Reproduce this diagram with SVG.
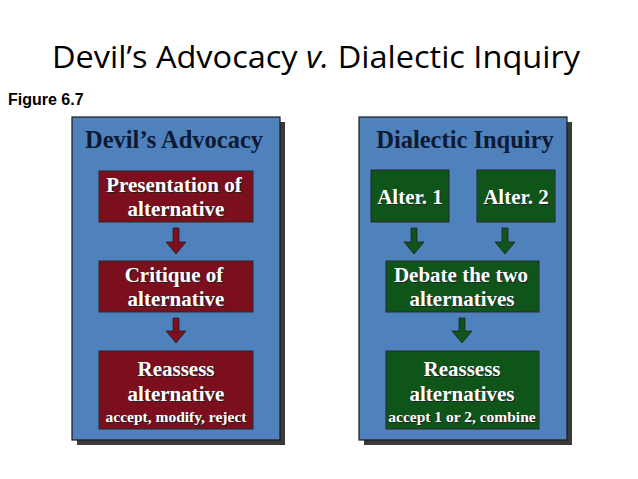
<svg xmlns="http://www.w3.org/2000/svg" width="638" height="479" viewBox="0 0 638 479">
<style>
.panel{fill:#4f81bd;stroke:#1a1a1a;stroke-width:1.2}
.sh{fill:#3a3a3a}
.red{fill:#7b0f1e;stroke:#2a2a2a;stroke-width:1}
.grn{fill:#0f5419;stroke:#2a2a2a;stroke-width:1}
.pt{font-family:"Liberation Serif",serif;font-weight:bold;font-size:24.5px;fill:#0d1a33;text-anchor:middle}
.bt{font-family:"Liberation Serif",serif;font-weight:bold;font-size:21px;fill:#fff;text-anchor:middle}
.st{font-family:"Liberation Serif",serif;font-weight:bold;font-size:15.5px;fill:#fff;text-anchor:middle}
.bts{font-family:"Liberation Serif",serif;font-weight:bold;font-size:21px;fill:#222;text-anchor:middle}
.sts{font-family:"Liberation Serif",serif;font-weight:bold;font-size:15.5px;fill:#222;text-anchor:middle}
.ar{fill:#7b0f1e;stroke:#222;stroke-width:0.8}
.ag{fill:#0f5419;stroke:#222;stroke-width:0.8}
</style>
<rect width="638" height="479" fill="#fff"/>
<text x="316" y="68" font-family="'Open Sans','DejaVu Sans',sans-serif" font-size="31" text-anchor="middle" fill="#000" textLength="528" lengthAdjust="spacingAndGlyphs">Devil’s Advocacy <tspan font-style="italic">v.</tspan> Dialectic Inquiry</text>
<text x="8" y="105" font-family="'Liberation Sans',sans-serif" font-weight="bold" font-size="16" fill="#000">Figure 6.7</text>
<g id="panel-left">
<rect class="sh" x="77" y="122" width="208" height="323"/>
<rect class="panel" x="72" y="117" width="208" height="323"/>
<text class="pt" x="174" y="148">Devil’s Advocacy</text>
</g>
<g id="panel-right">
<rect class="sh" x="364" y="122" width="208" height="323"/>
<rect class="panel" x="359" y="117" width="208" height="323"/>
<text class="pt" x="465" y="148">Dialectic Inquiry</text>
</g>
<g id="n1">
<rect class="red" x="99" y="171" width="154" height="51"/>
<text class="bts" x="175" y="193">Presentation of</text><text class="bt" x="174" y="192">Presentation of</text>
<text class="bts" x="177" y="217">alternative</text><text class="bt" x="176" y="216">alternative</text>
</g>
<g id="n2">
<rect class="red" x="99" y="261" width="154" height="51"/>
<text class="bts" x="175" y="283">Critique of</text><text class="bt" x="174" y="282">Critique of</text>
<text class="bts" x="177" y="307">alternative</text><text class="bt" x="176" y="306">alternative</text>
</g>
<g id="n3">
<rect class="red" x="99" y="351" width="154" height="78"/>
<text class="bts" x="177" y="377">Reassess</text><text class="bt" x="176" y="376">Reassess</text>
<text class="bts" x="177" y="402">alternative</text><text class="bt" x="176" y="401">alternative</text>
<text class="sts" x="177" y="423">accept, modify, reject</text><text class="st" x="176" y="422">accept, modify, reject</text>
</g>
<g id="a1">
<rect class="grn" x="371" y="170" width="78" height="52"/>
<text class="bts" x="411" y="205">Alter. 1</text><text class="bt" x="410" y="204">Alter. 1</text>
</g>
<g id="a2">
<rect class="grn" x="477" y="170" width="78" height="52"/>
<text class="bts" x="517" y="205">Alter. 2</text><text class="bt" x="516" y="204">Alter. 2</text>
</g>
<g id="d">
<rect class="grn" x="386" y="261" width="153" height="51"/>
<text class="bts" x="462" y="283">Debate the two</text><text class="bt" x="461" y="282">Debate the two</text>
<text class="bts" x="463" y="307">alternatives</text><text class="bt" x="462" y="306">alternatives</text>
</g>
<g id="r">
<rect class="grn" x="386" y="351" width="153" height="78"/>
<text class="bts" x="463" y="377">Reassess</text><text class="bt" x="462" y="376">Reassess</text>
<text class="bts" x="463" y="402">alternatives</text><text class="bt" x="462" y="401">alternatives</text>
<text class="sts" x="463" y="423">accept 1 or 2, combine</text><text class="st" x="462" y="422">accept 1 or 2, combine</text>
</g>
<g id="connectors">
<path class="ar" d="M173,228h6v14h7l-10,12l-10,-12h7z"/>
<path class="ar" d="M173,318h6v13h7l-10,12l-10,-12h7z"/>
<path class="ag" d="M411,228h6v14h7l-10,12l-10,-12h7z"/>
<path class="ag" d="M502,228h6v14h7l-10,12l-10,-12h7z"/>
<path class="ag" d="M459,318h6v13h7l-10,12l-10,-12h7z"/>
</g>
</svg>
